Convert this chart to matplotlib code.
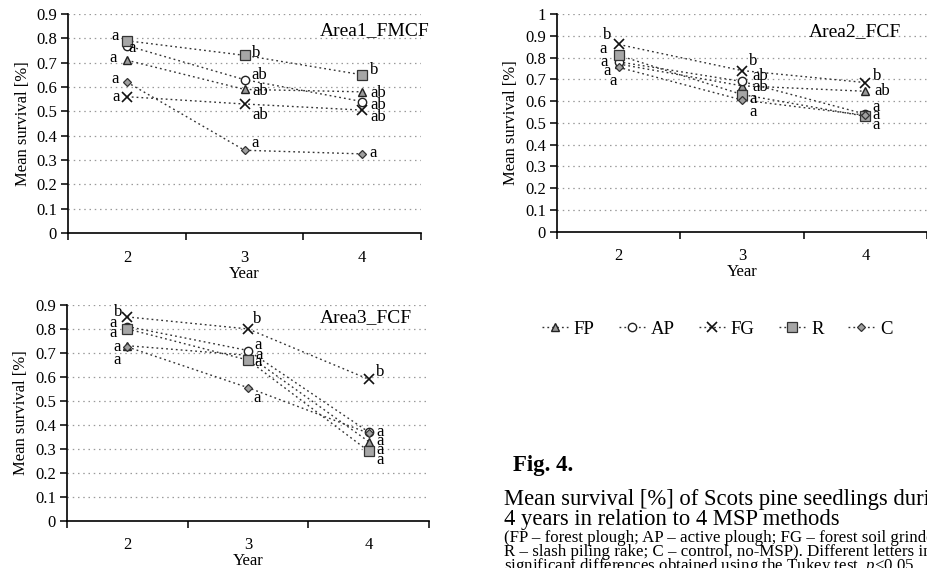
import numpy as np
import matplotlib
matplotlib.use('Agg')
import matplotlib.pyplot as plt
from matplotlib.lines import Line2D

plt.rcParams['font.family'] = ['Liberation Serif', 'DejaVu Serif']
plt.rcParams['mathtext.fontset'] = 'custom'
plt.rcParams['mathtext.it'] = 'Liberation Serif:italic'

# data
years = ["2", "3", "4"]
methods = ["FP", "AP", "FG", "R", "C"]

area1_fp = [0.71, 0.59, 0.58]
area1_ap = [0.77, 0.63, 0.54]
area1_fg = [0.56, 0.53, 0.505]
area1_r = [0.79, 0.73, 0.65]
area1_c = [0.62, 0.34, 0.325]

area2_fp = [0.77, 0.67, 0.645]
area2_ap = [0.78, 0.69, 0.54]
area2_fg = [0.86, 0.74, 0.685]
area2_r = [0.81, 0.63, 0.53]
area2_c = [0.755, 0.605, 0.535]

area3_fp = [0.73, 0.69, 0.33]
area3_ap = [0.81, 0.71, 0.37]
area3_fg = [0.85, 0.80, 0.59]
area3_r = [0.80, 0.67, 0.29]
area3_c = [0.725, 0.555, 0.365]

# Tukey letters
area1_letters = [["a", "ab", "ab"], ["a", "ab", "ab"], ["a", "ab", "ab"], ["a", "b", "b"], ["a", "a", "a"]]
area2_letters = [["a", "ab", "ab"], ["a", "ab", "a"], ["b", "b", "b"], ["a", "a", "a"], ["a", "a", "a"]]
area3_letters = [["a", "a", "a"], ["a", "a", "a"], ["b", "b", "b"], ["a", "a", "a"], ["a", "a", "a"]]

# letter offsets in pixels (dx, dy up), per method and year
area1_offsets = [[(-14, 2), (16, -2), (16, -1)],
                 [(5, -2), (15, 5), (16, -3)],
                 [(-11, 0), (16, -11), (16, -7)],
                 [(-12, 5), (12, 2), (12, 5)],
                 [(-12, 3), (11, 7), (11, 1)]]
area2_offsets = [[(-12, -7), (18, -1), (17, 0)],
                 [(-15, 0), (18, 5), (11, 7)],
                 [(-12, 9), (11, 10), (12, 7)],
                 [(-16, 6), (11, -4), (11, -9)],
                 [(-6, -14), (11, -12), (11, 0)]]
area3_offsets = [[(-10, -1), (11, 0), (11, -8)],
                 [(-14, 4), (10, 6), (11, 0)],
                 [(-9, 5), (9, 10), (11, 7)],
                 [(-14, -4), (10, -2), (11, -9)],
                 [(-10, -13), (9, -10), (11, -8)]]

STYLES = {
    "FP": dict(marker='^', ms=5.5, mfc='#9a9a9a', mec='#222222', mew=1.0),
    "AP": dict(marker='o', ms=6, mfc='white', mec='#222222', mew=1.0),
    "FG": dict(marker='x', ms=6.5, mfc='none', mec='#111111', mew=1.2),
    "R": dict(marker='s', ms=6.5, mfc='#a6a6a6', mec='#333333', mew=0.9),
    "C": dict(marker='D', ms=4.5, mfc='#a0a0a0', mec='#333333', mew=0.9),
}
LINE = dict(color='#333333', lw=1.0, ls=(0, (1.3, 2.2)))


def draw_panel(ax, values, letters, offsets, ymax, title, title_xy):
    x = np.arange(len(years))
    for m, vals, lets, offs in zip(methods, values, letters, offsets):
        ax.plot(x, vals, **LINE, **STYLES[m], zorder=3)
        for xi, v, lt, (dx, dy) in zip(x, vals, lets, offs):
            ax.annotate(lt, (xi, v), xytext=(dx, dy), textcoords='offset pixels',
                        ha='center', va='center', fontsize=12, zorder=4)
    ax.set_xlim(-0.5, len(years) - 0.5)
    ax.set_ylim(0, ymax)
    yt = np.round(np.arange(0, ymax + 0.001, 0.1), 1)
    ax.set_yticks(yt)
    ax.set_yticklabels([f"{t:g}" for t in yt], fontsize=12)
    for t in yt[1:]:
        ax.axhline(t, color='#9a9a9a', lw=0.9, ls=(0, (1.2, 3)), zorder=1)
    ax.set_xticks(np.arange(-0.5, len(years)), labels=[])
    ax.set_xticks(x, labels=years, minor=True)
    ax.tick_params(axis='x', which='major', direction='out', length=5, width=1.1)
    ax.tick_params(axis='x', which='minor', length=0, pad=12, labelsize=12)
    ax.tick_params(axis='y', direction='out', length=5, width=1.1, pad=3)
    for s in ('top', 'right'):
        ax.spines[s].set_visible(False)
    for s in ('left', 'bottom'):
        ax.spines[s].set_linewidth(1.2)
    ax.set_xlabel("Year", fontsize=12, labelpad=0)
    ax.set_ylabel("Mean survival [%]", fontsize=12, labelpad=4)
    ax.text(title_xy[0], title_xy[1], title, transform=ax.transAxes,
            ha='center', va='center', fontsize=14, zorder=5)


fig = plt.figure(figsize=(9.27, 5.68), dpi=100)
ax1 = fig.add_axes([0.0734, 0.5898, 0.3808, 0.3856])
ax2 = fig.add_axes([0.6009, 0.5921, 0.3991, 0.3833])
ax3 = fig.add_axes([0.0723, 0.0833, 0.3905, 0.3798])

draw_panel(ax1, [area1_fp, area1_ap, area1_fg, area1_r, area1_c], area1_letters,
           area1_offsets, 0.9, "Area1_FMCF", (0.87, 0.922))
draw_panel(ax2, [area2_fp, area2_ap, area2_fg, area2_r, area2_c], area2_letters,
           area2_offsets, 1.0, "Area2_FCF", (0.805, 0.917))
draw_panel(ax3, [area3_fp, area3_ap, area3_fg, area3_r, area3_c], area3_letters,
           area3_offsets, 0.9, "Area3_FCF", (0.826, 0.94))

handles = [Line2D([], [], **LINE, **STYLES[m]) for m in methods]
fig.legend(handles, methods, loc='center', bbox_to_anchor=(717 / 927, 1 - 329 / 568),
           ncol=5, frameon=False, fontsize=13.5, handlelength=1.4,
           handletextpad=0.3, columnspacing=1.3)

# caption
fig.text(513 / 927, 1 - 466 / 568, "Fig. 4.", fontsize=16.5, fontweight='bold',
         ha='left', va='center')
fig.text(504 / 927, 1 - 500 / 568, "Mean survival [%] of Scots pine seedlings during",
         fontsize=16.3, ha='left', va='center')
fig.text(504 / 927, 1 - 519 / 568, "4 years in relation to 4 MSP methods",
         fontsize=16.3, ha='left', va='center')
fig.text(504 / 927, 1 - 538 / 568,
         "(FP – forest plough; AP – active plough; FG – forest soil grinder;",
         fontsize=12.2, ha='left', va='center')
fig.text(504 / 927, 1 - 552 / 568,
         "R – slash piling rake; C – control, no-MSP). Different letters indicate",
         fontsize=12.2, ha='left', va='center')
fig.text(504 / 927, 1 - 566 / 568,
         "significant differences obtained using the Tukey test, $p$<0.05",
         fontsize=12.2, ha='left', va='center')

fig.savefig('out.png', dpi=100)
